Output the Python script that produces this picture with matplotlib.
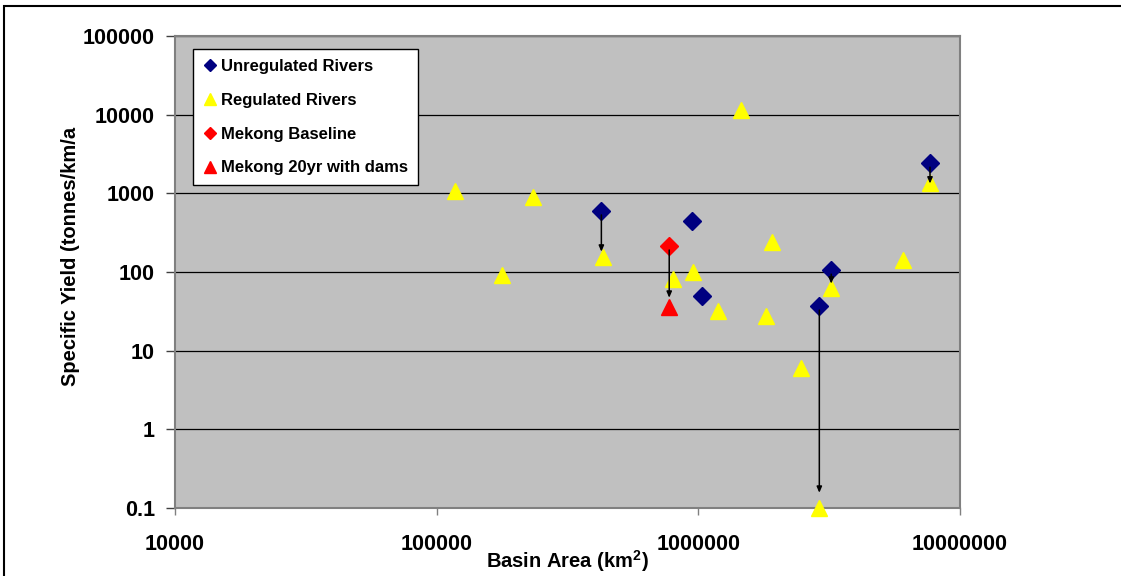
import matplotlib
matplotlib.use('Agg')
import matplotlib.pyplot as plt
from matplotlib.patches import Rectangle
from matplotlib.ticker import FixedLocator, FuncFormatter, NullLocator

plt.rcParams['font.family'] = ['Liberation Sans', 'DejaVu Sans']
plt.rcParams['font.weight'] = 'bold'
plt.rcParams['mathtext.fontset'] = 'custom'
plt.rcParams['mathtext.rm'] = 'Liberation Sans:bold'
plt.rcParams['mathtext.bf'] = 'Liberation Sans:bold'

# Unregulated rivers (basin area km2, specific yield)
unreg_area = [426000, 948000, 1035000, 2900000, 3220000, 7680000]
unreg_yield = [600, 445, 50, 37, 106, 2430]

# Regulated rivers
reg_area = [118000, 177000, 234000, 434000, 803000, 957000, 1190000, 1460000,
            1820000, 1920000, 2470000, 2900000, 3220000, 6050000, 7680000]
reg_yield = [1070, 92, 900, 156, 82, 100, 32, 11500,
             27.7, 241, 6.0, 0.1, 63, 143, 1355]

# Mekong
mekong_area = [774000]
mekong_base = [215]
mekong_dams = [36]

# arrows: unregulated -> regulated
arrow_area = [426000, 774000, 2900000, 3220000, 7680000]
arrow_from = [600, 215, 37, 106, 2430]
arrow_to = [181, 47, 0.156, 71, 1330]

y_ticks = [0.1, 1, 10, 100, 1000, 10000, 100000]
x_ticks = [10000, 100000, 1000000, 10000000]


def fmt(v, pos=None):
    return f'{v:.0f}' if v >= 1 else f'{v:g}'


W, H = 1121, 576
fig = plt.figure(figsize=(W / 100, H / 100), dpi=100)
ax = fig.add_axes([175 / W, 1 - 508 / H, 785 / W, 472 / H])
ax.set_facecolor('#C0C0C0')

ax.set_xscale('log')
ax.set_yscale('log')
ax.set_xlim(10000, 10000000)
ax.set_ylim(0.1, 100000)

ax.yaxis.set_major_locator(FixedLocator(y_ticks))
ax.xaxis.set_major_locator(FixedLocator(x_ticks))
ax.yaxis.set_minor_locator(NullLocator())
ax.xaxis.set_minor_locator(NullLocator())
ax.yaxis.set_major_formatter(FuncFormatter(fmt))
ax.xaxis.set_major_formatter(FuncFormatter(fmt))

ax.grid(axis='y', color='black', linewidth=0.9, zorder=1)
ax.set_axisbelow(True)
for s in ax.spines.values():
    s.set_color('#808080')
    s.set_linewidth(1.5)

ax.tick_params(axis='y', direction='out', length=6.5, width=1, color='#404040',
               pad=8, labelsize=15.5)
ax.tick_params(axis='x', direction='out', length=5, width=1, color='#808080',
               pad=14, labelsize=15.5)

ax.plot(unreg_area, unreg_yield, linestyle='none', marker='D', ms=8.7,
        color='#000080', mec='#000080', label='Unregulated Rivers', zorder=3,
        clip_on=False)
ax.plot(reg_area, reg_yield, linestyle='none', marker='^', ms=12.2,
        color='#FFFF00', mec='#FFFF00', label='Regulated Rivers', zorder=3,
        clip_on=False)
ax.plot(mekong_area, mekong_base, linestyle='none', marker='D', ms=8.7,
        color='#FF0000', mec='#FF0000', label='Mekong Baseline', zorder=3)
ax.plot(mekong_area, mekong_dams, linestyle='none', marker='^', ms=12.2,
        color='#FF0000', mec='#FF0000', label='Mekong 20yr with dams', zorder=3)

for x, y0, y1 in zip(arrow_area, arrow_from, arrow_to):
    ax.annotate('', xy=(x, y1), xytext=(x, y0),
                arrowprops=dict(arrowstyle='-|>,head_length=0.35,head_width=0.15',
                                color='black', lw=1.1, shrinkA=3, shrinkB=0),
                zorder=4)

leg = ax.legend(loc='upper left', bbox_to_anchor=(0.023, 0.9725), borderaxespad=0,
                fancybox=False, framealpha=1, edgecolor='black', fontsize=12,
                markerscale=0.7, handlelength=0.8, handletextpad=0.3,
                labelspacing=1.13, borderpad=0.6)
leg.get_frame().set_linewidth(1.0)

ax.set_ylabel('Specific Yield (tonnes/km/a', fontsize=14.5, fontweight='bold')
ax.yaxis.set_label_coords(-0.121, 0.534)
ax.set_xlabel('Basin Area (km$^{2}$)', fontsize=14.5, fontweight='bold')
ax.xaxis.set_label_coords(0.5, -0.085)

# outer chart frame
fig.add_artist(Rectangle((3.5 / W, -0.1), 1.2, 1.1 - 6 / H, transform=fig.transFigure,
                         fill=False, edgecolor='black', linewidth=1.5))

fig.savefig('out.png', dpi=100)
